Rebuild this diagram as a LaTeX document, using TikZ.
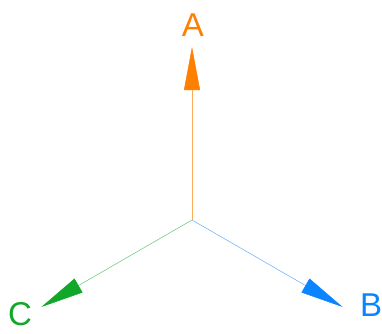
\documentclass[tikz,border=0pt]{standalone}
\usepackage{fontspec}
\setsansfont{Liberation Sans}
\usetikzlibrary{arrows.meta,positioning,calc}
\definecolor{axisorange}{HTML}{FF7F00}
\definecolor{axisblue}{HTML}{0A84FF}
\definecolor{axisgreen}{HTML}{11A82A}
\tikzset{
  axis/.style={line width=0.5pt, draw=#1!65, -{Triangle[length=43pt, width=16pt, color=#1]}},
  axislabel/.style={font=\sffamily\fontsize{33}{36}\selectfont, inner sep=0pt}
}

\begin{document}
\begin{tikzpicture}[x=1pt, y=1pt]
  \useasboundingbox (0,0) rectangle (382,333);
  \coordinate (origin) at (192,113);
  \coordinate (tipA) at ($(origin)+(90:173)$);
  \coordinate (tipB) at ($(origin)+(-30:174)$);
  \coordinate (tipC) at ($(origin)+(210:174)$);

  \node[axislabel, text=axisorange] (A) at (193,308) {A};
  \node[axislabel, text=axisblue] (B) at (371,28) {B};
  \node[axislabel, text=axisgreen] (C) at (20,19) {C};

  \draw[axis=axisorange] (origin) -- (tipA);
  \draw[axis=axisblue] (origin) -- (tipB);
  \draw[axis=axisgreen] (origin) -- (tipC);
\end{tikzpicture}
\end{document}
